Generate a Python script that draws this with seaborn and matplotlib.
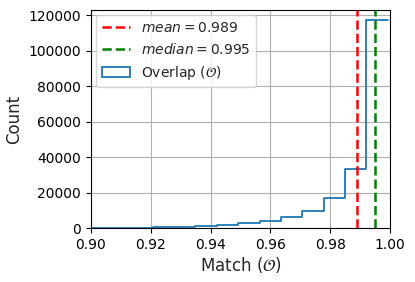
import numpy as np
import pandas as pd
import matplotlib
matplotlib.use('Agg')
import matplotlib.pyplot as plt
import seaborn as sns
from matplotlib.patches import Patch

# histogram bins (upper edge of last bin at 1.0)
bin_edges = [0.8992, 0.9063, 0.9135, 0.9206, 0.9278, 0.9349, 0.9421, 0.9492,
             0.9564, 0.9635, 0.9707, 0.9778, 0.9850, 0.9921, 0.9993]
counts = [150, 220, 320, 480, 730, 1300, 1900, 2800,
          4300, 6200, 9900, 17200, 33400, 117200]
mean_val = 0.989
median_val = 0.995

df = pd.DataFrame({
    'match': [(a + b) / 2 for a, b in zip(bin_edges[:-1], bin_edges[1:])],
    'count': counts,
})

sns.set_style('ticks')
plt.rcParams['font.family'] = ['DejaVu Sans']

fig = plt.figure(figsize=(4.15, 2.82), dpi=100)
ax = fig.add_axes([0.219, 0.191, 0.721, 0.774])

ax.axvline(mean_val, color='red', ls='--', lw=1.8, zorder=3)
ax.axvline(median_val, color='green', ls='--', lw=1.8, zorder=3)
sns.histplot(data=df, x='match', weights='count', bins=bin_edges,
             element='step', fill=False, color='C0', lw=1.3, ax=ax)

ax.set_xlim(0.90, 1.00)
ax.set_ylim(0, 123000)
ax.set_xticks(np.arange(0.90, 1.001, 0.02))
ax.set_yticks(np.arange(0, 120001, 20000))
ax.grid(True, color='#b0b0b0', lw=0.8)
ax.set_axisbelow(True)
ax.tick_params(labelsize=10, direction='out', length=3.5, width=0.8, colors='black')
for s in ax.spines.values():
    s.set_visible(True)
    s.set_color('black')
    s.set_linewidth(0.8)

ax.set_xlabel(r'Match ($\mathcal{O}$)', fontsize=12, labelpad=2)
ax.set_ylabel('Count', fontsize=12, labelpad=4)

handles = [
    plt.Line2D([], [], color='red', ls='--', lw=1.8),
    plt.Line2D([], [], color='green', ls='--', lw=1.8),
    Patch(facecolor='none', edgecolor='C0', lw=1.3),
]
labels = [rf'$mean = {mean_val}$', rf'$median = {median_val}$', r'Overlap ($\mathcal{O}$)']
ax.legend(handles, labels, loc='upper left', fontsize=10, framealpha=0.8,
          borderaxespad=0.4, handlelength=2.0)

fig.savefig('out.png', dpi=100)
